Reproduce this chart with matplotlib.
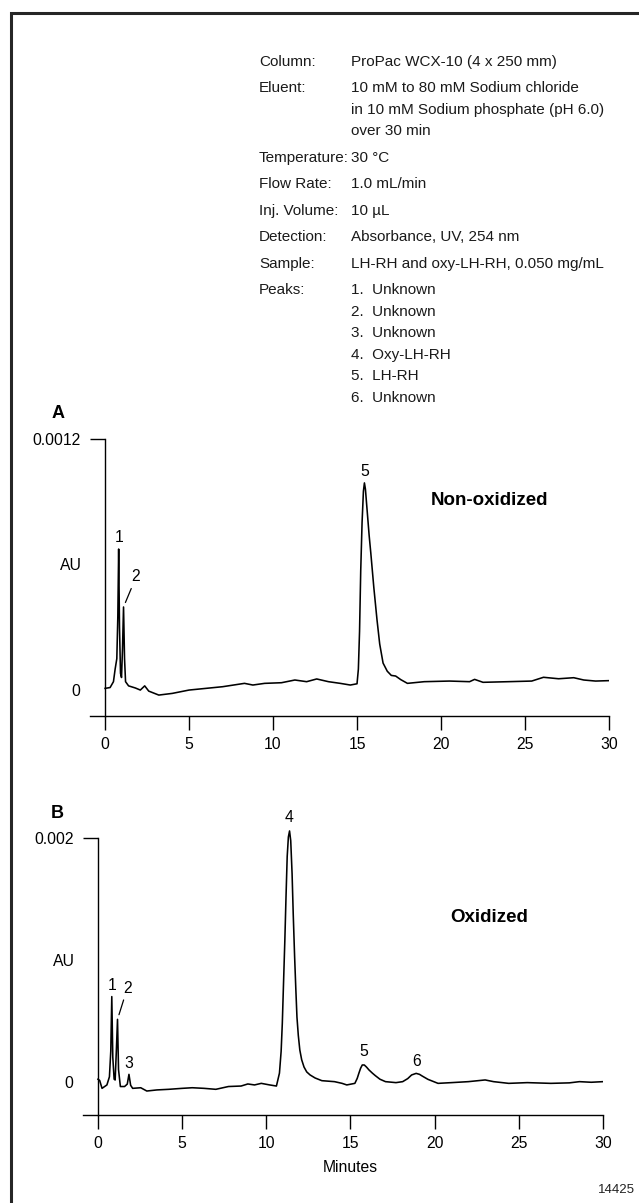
import numpy as np
import matplotlib
matplotlib.use('Agg')
import matplotlib.pyplot as plt
from matplotlib.patches import Rectangle

W, H = 639, 1203
plt.rcParams['font.family'] = ['Liberation Sans Narrow', 'Liberation Sans', 'DejaVu Sans']

# chromatographic conditions (header block)
cond_labels = ['Column:', 'Eluent:', 'Temperature:', 'Flow Rate:', 'Inj. Volume:',
               'Detection:', 'Sample:', 'Peaks:']
cond_values = ['ProPac WCX-10 (4 x 250 mm)',
               '10 mM to 80 mM Sodium chloride\nin 10 mM Sodium phosphate (pH 6.0)\nover 30 min',
               '30 °C',
               '1.0 mL/min',
               '10 µL',
               'Absorbance, UV, 254 nm',
               'LH-RH and oxy-LH-RH, 0.050 mg/mL',
               '1.  Unknown\n2.  Unknown\n3.  Unknown\n4.  Oxy-LH-RH\n5.  LH-RH\n6.  Unknown']

# trace A: non-oxidized (minutes, AU)
time_a = [0.00, 0.30, 0.50, 0.60, 0.70, 0.76, 0.81, 0.86, 0.92, 0.98, 1.04, 1.10, 1.16,
          1.22, 1.40, 1.80, 2.10, 2.36, 2.60, 3.20, 4.00, 5.00, 6.00, 7.00, 8.30, 8.80,
          9.50, 10.5, 11.3, 12.0, 12.6, 13.3, 14.0, 14.6, 15.00, 15.08, 15.15, 15.22,
          15.30, 15.38, 15.44, 15.50, 15.60, 15.72, 15.82, 16.00, 16.19, 16.35, 16.55,
          16.80, 17.04, 17.30, 17.60, 18.0, 19.0, 20.5, 21.7, 22.0, 22.5, 24.0, 25.4,
          26.1, 27.0, 27.9, 28.5, 29.2, 30.0]
au_a = [0.000008, 0.000012, 0.000040, 0.000100, 0.000150, 0.000350, 0.000674, 0.000300,
        0.000080, 0.000060, 0.000200, 0.000397, 0.000150, 0.000040, 0.000020, 0.000010,
        0.000000, 0.000020, -0.000005, -0.000024, -0.000016, 0.000000, 0.000008,
        0.000016, 0.000032, 0.000024, 0.000032, 0.000035, 0.000048, 0.000040, 0.000053,
        0.000040, 0.000032, 0.000024, 0.000030, 0.000100, 0.000280, 0.000570, 0.000800,
        0.000950, 0.000990, 0.000960, 0.000860, 0.000740, 0.000655, 0.000490, 0.000335,
        0.000220, 0.000129, 0.000090, 0.000070, 0.000067, 0.000050, 0.000032, 0.000040,
        0.000043, 0.000040, 0.000051, 0.000037, 0.000040, 0.000043, 0.000061, 0.000054,
        0.000059, 0.000048, 0.000043, 0.000045]

# trace B: oxidized
time_b = [0.00, 0.10, 0.24, 0.53, 0.68, 0.76, 0.82, 0.88, 0.96, 1.02, 1.09, 1.16, 1.22,
          1.33, 1.58, 1.74, 1.84, 1.94, 2.06, 2.54, 2.90, 3.50, 4.20, 5.00, 5.60, 6.30,
          7.00, 7.75, 8.50, 8.90, 9.30, 9.70, 10.20, 10.60, 10.78, 10.88, 10.95, 11.02,
          11.10, 11.17, 11.24, 11.31, 11.38, 11.45, 11.53, 11.60, 11.68, 11.75, 11.82,
          11.90, 11.99, 12.10, 12.24, 12.40, 12.60, 12.90, 13.30, 14.05, 14.50, 14.78,
          15.26, 15.40, 15.50, 15.60, 15.70, 15.82, 15.95, 16.10, 16.30, 16.47, 16.75,
          17.08, 17.70, 18.10, 18.40, 18.63, 18.90, 19.10, 19.25, 19.60, 20.20, 21.00,
          22.00, 23.00, 23.50, 24.40, 25.50, 26.90, 28.00, 28.60, 29.30, 30.00]
au_b = [0.000020, 0.000010, -0.000055, -0.000027, 0.000040, 0.000250, 0.000699, 0.000200,
        0.000020, 0.000014, 0.000250, 0.000512, 0.000100, -0.000040, -0.000040,
        -0.000020, 0.000060, -0.000030, -0.000055, -0.000050, -0.000077, -0.000068,
        -0.000063, -0.000055, -0.000050, -0.000055, -0.000063, -0.000040, -0.000036,
        -0.000019, -0.000027, -0.000014, -0.000027, -0.000036, 0.000070, 0.000250,
        0.000480, 0.000800, 0.001160, 0.001520, 0.001850, 0.002010, 0.002060, 0.001980,
        0.001710, 0.001370, 0.001030, 0.000770, 0.000530, 0.000380, 0.000260, 0.000180,
        0.000120, 0.000080, 0.000055, 0.000030, 0.000008, 0.000000, -0.000014,
        -0.000027, -0.000014, 0.000027, 0.000070, 0.000110, 0.000137, 0.000137,
        0.000120, 0.000096, 0.000070, 0.000050, 0.000020, 0.000000, -0.000008, 0.000000,
        0.000025, 0.000055, 0.000068, 0.000060, 0.000047, 0.000019, -0.000014,
        -0.000008, 0.000000, 0.000014, 0.000000, -0.000014, -0.000008, -0.000014,
        -0.000010, 0.000000, -0.000005, 0.000000]

# peak numbers and retention times
peaks_a = ['1', '2', '5']
peak_times_a = [0.81, 1.10, 15.44]
peaks_b = ['1', '2', '3', '4', '5', '6']
peak_times_b = [0.82, 1.16, 1.84, 11.38, 15.76, 18.90]

x_ticks = [0, 5, 10, 15, 20, 25, 30]

fig = plt.figure(figsize=(W / 100, H / 100), dpi=100)


def fx(x):
    return x / W


def fy(y):
    return 1 - y / H


# outer frame
fig.add_artist(Rectangle((fx(11), fy(1230)), fx(700) - fx(11), fy(13) - fy(1230),
                         transform=fig.transFigure, fill=False, lw=2.2, ec='#262626'))

# header block
y = 60
for lab, val in zip(cond_labels, cond_values):
    fig.text(fx(259), fy(y + 5.6), lab, fontsize=11, color='#1a1a1a', va='baseline')
    for line in val.split('\n'):
        fig.text(fx(351), fy(y + 5.6), line, fontsize=11, color='#1a1a1a', va='baseline')
        y += 21.5
    y += 5


def chrom(box, xlim, ylim, ytop, ytop_label, t, au, names, ptimes, offsets):
    left, right, top, bottom = box
    ax = fig.add_axes([fx(left), fy(bottom), (right - left) / W, (bottom - top) / H])
    ax.plot(t, au, color='black', lw=1.15, solid_joinstyle='round')
    ax.set_xlim(*xlim)
    ax.set_ylim(*ylim)
    for s in ['top', 'right']:
        ax.spines[s].set_visible(False)
    ax.spines['left'].set_position(('data', 0))
    ax.spines['left'].set_bounds(ylim[0], ytop)
    ax.spines['left'].set_linewidth(1.0)
    ax.spines['bottom'].set_linewidth(1.0)
    ax.set_xticks(x_ticks)
    ax.set_xticklabels([str(v) for v in x_ticks])
    ax.tick_params(axis='x', direction='out', length=10.3, width=1.0, pad=4.5, labelsize=11.3)
    ax.set_yticks([0, ytop])
    ax.set_yticklabels(['0', ytop_label])
    ax.tick_params(axis='y', direction='out', length=10.5, width=1.0, pad=7, labelsize=11.3)
    ax.yaxis.get_major_ticks()[0].tick1line.set_visible(False)
    ax.patch.set_visible(False)
    for name, pt, off in zip(names, ptimes, offsets):
        h = np.interp(pt, t, au)
        if off[0] == 0:
            ax.annotate(name, (pt, h), xytext=(0, off[1]), textcoords='offset pixels',
                        ha='center', va='center', fontsize=11.3)
        else:
            ax.annotate(name, (pt, h), xytext=off, textcoords='offset pixels',
                        ha='center', va='center', fontsize=11.3,
                        arrowprops=dict(arrowstyle='-', lw=0.9, color='black',
                                        relpos=(0.2, 0.0), shrinkA=1, shrinkB=3.5))
    return ax


ax_a = chrom((89.6, 609, 428.5, 716), (-0.92, 30), (-0.000124, 0.00125), 0.0012, '0.0012',
             time_a, au_a, peaks_a, peak_times_a, [(0, 12), (12, 30), (0, 11)])
ax_b = chrom((83, 603, 820, 1115), (-0.89, 30), (-0.000274, 0.00215), 0.002, '0.002',
             time_b, au_b, peaks_b, peak_times_b,
             [(0, 11), (10, 31), (0, 11), (0, 13), (0, 13), (0, 12)])

ax_b.set_xlabel('Minutes', fontsize=11.3)
ax_b.xaxis.set_label_coords(0.514, -0.152)

fig.text(fx(58), fy(414), 'A', fontsize=13, fontweight='bold', ha='center', va='center')
fig.text(fx(57), fy(813), 'B', fontsize=13, fontweight='bold', ha='center', va='center')
fig.text(fx(70.5), fy(566), 'AU', fontsize=11.3, ha='center', va='center')
fig.text(fx(64), fy(961), 'AU', fontsize=11.3, ha='center', va='center')
fig.text(fx(489), fy(501), 'Non-oxidized', fontsize=13.5, fontweight='bold',
         ha='center', va='center')
fig.text(fx(489), fy(917), 'Oxidized', fontsize=13.5, fontweight='bold',
         ha='center', va='center')
fig.text(fx(635), fy(1190), '14425', fontsize=9.5, ha='right', va='center', color='#222222')

fig.savefig('out.png', dpi=100)
